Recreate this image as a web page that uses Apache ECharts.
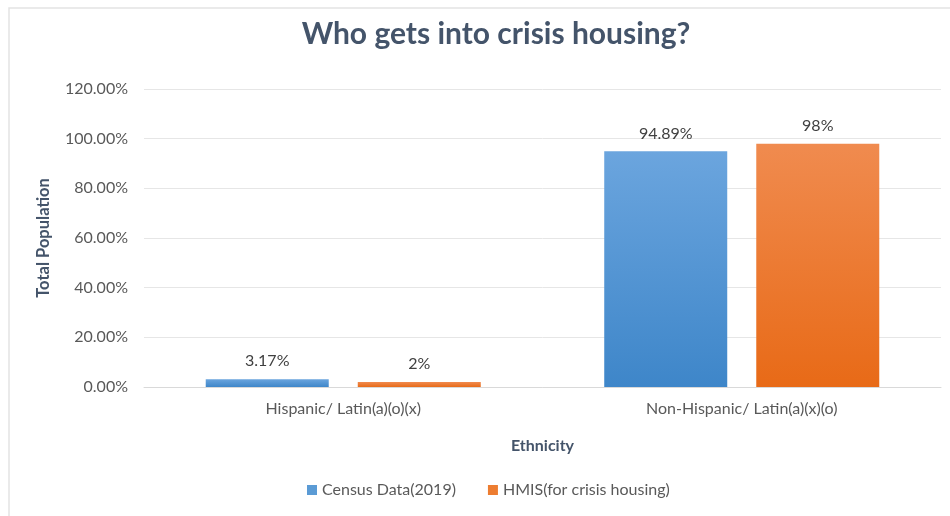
<!DOCTYPE html>
<html>
<head>
<meta charset="utf-8">
<script src="https://cdn.jsdelivr.net/npm/echarts@6/dist/echarts.min.js"></script>
<style>
  html, body { margin: 0; padding: 0; background: #fff; }
  #chart { width: 950px; height: 516px; }
</style>
</head>
<body>
<div id="chart"></div>
<script>
// Share of population by ethnicity (percent)
const categories = ['Hispanic/ Latin(a)(o)(x)', 'Non-Hispanic/ Latin(a)(x)(o)'];
const censusValues = [3.17, 94.89];
const hmisValues = [2, 98];
const censusLabels = ['3.17%', '94.89%'];
const hmisLabels = ['2%', '98%'];
const seriesNames = ['Census Data(2019)', 'HMIS(for crisis housing)'];

const FONT = 'Lato, "Open Sans", sans-serif';
const chart = echarts.init(document.getElementById('chart'), null, { renderer: 'canvas' });

function grad(top, bottom) {
  return new echarts.graphic.LinearGradient(0, 0, 0, 1, [
    { offset: 0, color: top },
    { offset: 1, color: bottom }
  ]);
}

chart.setOption({
  backgroundColor: '#ffffff',
  animation: false,
  graphic: [{
    type: 'rect',
    shape: { x: 9, y: 8, width: 960, height: 540 },
    style: { fill: 'none', stroke: '#e3e3e3', lineWidth: 1.5 },
    silent: true
  }],
  title: {
    text: 'Who gets into crisis housing?',
    left: 491,
    textAlign: 'center',
    top: 14,
    textStyle: { fontFamily: FONT, fontSize: 30, fontWeight: 'bold', color: '#44546a' }
  },
  legend: {
    bottom: 13,
    left: 302,
    itemWidth: 10,
    itemHeight: 10,
    itemGap: 32,
    icon: 'rect',
    textStyle: { fontFamily: FONT, fontSize: 16, color: '#595959' },
    data: [
      { name: seriesNames[0], itemStyle: { color: '#5b9bd5' } },
      { name: seriesNames[1], itemStyle: { color: '#ed7d31' } }
    ]
  },
  grid: { left: 144, right: 9, top: 89, bottom: 129 },
  xAxis: {
    type: 'category',
    data: categories,
    name: 'Ethnicity',
    nameLocation: 'middle',
    nameGap: 51,
    nameTextStyle: { fontFamily: FONT, fontSize: 16, fontWeight: 'bold', color: '#44546a' },
    axisLine: { lineStyle: { color: '#d9d9d9', width: 1 } },
    axisTick: { show: false },
    axisLabel: { fontFamily: FONT, fontSize: 16, color: '#595959', margin: 14 }
  },
  yAxis: {
    type: 'value',
    min: 0,
    max: 120,
    interval: 20,
    name: 'Total Population',
    nameLocation: 'middle',
    nameGap: 92,
    nameRotate: 90,
    nameTextStyle: { fontFamily: FONT, fontSize: 16.5, fontWeight: 'bold', color: '#44546a' },
    axisLine: { show: false },
    axisTick: { show: false },
    axisLabel: {
      fontFamily: FONT, fontSize: 16, color: '#595959', margin: 16,
      formatter: v => v.toFixed(2) + '%'
    },
    splitLine: { lineStyle: { color: '#e6e6e6', width: 1 } }
  },
  series: [
    {
      name: seriesNames[0],
      type: 'bar',
      data: censusValues,
      barWidth: 123,
      barGap: '23.6%',
      itemStyle: { color: grad('#6ba5de', '#3e86c9') },
      label: {
        show: true, position: 'top', distance: 10,
        fontFamily: FONT, fontSize: 16, color: '#404040',
        formatter: p => censusLabels[p.dataIndex]
      }
    },
    {
      name: seriesNames[1],
      type: 'bar',
      data: hmisValues,
      barWidth: 123,
      itemStyle: { color: grad('#f08b4f', '#e86a17') },
      label: {
        show: true, position: 'top', distance: 10,
        fontFamily: FONT, fontSize: 16, color: '#404040',
        formatter: p => hmisLabels[p.dataIndex]
      }
    }
  ]
});
</script>
</body>
</html>
